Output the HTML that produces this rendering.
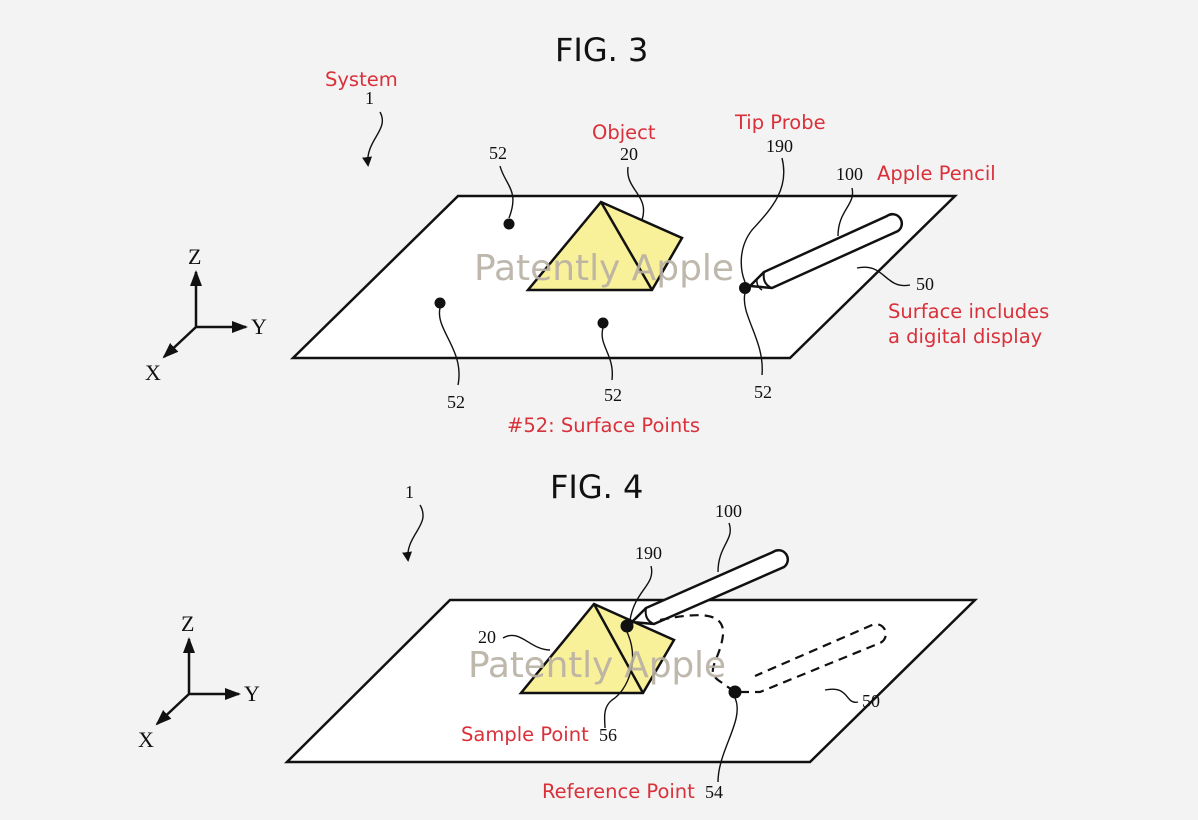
<!DOCTYPE html>
<html><head><meta charset="utf-8"><style>
html,body{margin:0;padding:0;background:#f3f3f3}
svg{display:block}
.r{fill:#d9303a;font-family:"DejaVu Sans","Liberation Sans",sans-serif;font-size:19.5px}
.n{fill:#111;font-family:"Liberation Serif",serif;font-size:18px}
.t{fill:#111;font-family:"DejaVu Sans","Liberation Sans",sans-serif;font-size:32px}
.w{fill:#b8b0a4;font-family:"DejaVu Sans","Liberation Sans",sans-serif;font-size:36px;opacity:.9}
.ax{fill:#111;font-family:"Liberation Serif",serif;font-size:22px}
</style></head><body>
<svg width="1198" height="820" viewBox="0 0 1198 820" xmlns="http://www.w3.org/2000/svg">
<defs><marker id="a" markerWidth="10" markerHeight="10" refX="8" refY="5" orient="auto" markerUnits="userSpaceOnUse" viewBox="0 0 10 10"><path d="M0,0 L10,5 L0,10 z" fill="#111"/></marker>
<marker id="b" markerWidth="16" markerHeight="16" refX="14" refY="8" orient="auto" markerUnits="userSpaceOnUse" viewBox="0 0 16 16"><path d="M0,2 L16,8 L0,14 z" fill="#111"/></marker></defs>
<g stroke="#111" fill="none" stroke-width="1.4">
<!-- FIG 3 -->
<text x="555" y="61" class="t" stroke="none">FIG. 3</text>
<text x="325" y="86" class="r" stroke="none">System</text>
<text x="365" y="104" class="n" stroke="none">1</text>
<path d="M380,112 C390,130 365,140 368,165" marker-end="url(#a)"/>
<polygon points="458,196 955,196 790,358 293,358" fill="#fff" stroke-width="2.5"/>
<polygon points="601,202 682,238 652,290 528,290" fill="#f9f09a" stroke-width="2.5"/>
<line x1="601" y1="202" x2="652" y2="290" stroke-width="2.5"/>
<path d="M750,286 L764,272 L887,216 A8,8 0 0 1 898,231 L772,288 Z" fill="#fff" stroke-width="2.5"/>
<path d="M764,272 Q762,284 772,288" stroke-width="2"/>
<path d="M757,279 Q756,286 762,290" stroke-width="1.5"/>
<g fill="#111" stroke="none"><circle cx="509" cy="224" r="5.5"/><circle cx="440" cy="303" r="5.5"/><circle cx="603" cy="323" r="5.5"/><circle cx="745" cy="288" r="6"/></g>
<text x="489" y="159" class="n" stroke="none">52</text>
<path d="M500,166 C505,185 520,190 509,218"/>
<text x="592" y="139" class="r" stroke="none">Object</text>
<text x="620" y="160" class="n" stroke="none">20</text>
<path d="M628,167 C625,190 650,195 642,220"/>
<text x="735" y="129" class="r" stroke="none">Tip Probe</text>
<text x="766" y="152" class="n" stroke="none">190</text>
<path d="M782,158 C790,190 770,210 752,230 C738,248 740,270 745,282"/>
<text x="836" y="180" class="n" stroke="none">100</text>
<text x="877" y="180" class="r" stroke="none">Apple Pencil</text>
<path d="M852,188 C856,205 838,210 838,236"/>
<text x="916" y="290" class="n" stroke="none">50</text>
<path d="M857,268 C885,262 885,290 910,285"/>
<text x="888" y="318" class="r" stroke="none">Surface includes</text>
<text x="888" y="343" class="r" stroke="none">a digital display</text>
<path d="M440,308 C435,330 465,350 458,385"/>
<text x="447" y="408" class="n" stroke="none">52</text>
<path d="M603,328 C598,345 615,355 612,380"/>
<text x="604" y="401" class="n" stroke="none">52</text>
<path d="M745,293 C740,315 765,340 762,375"/>
<text x="754" y="398" class="n" stroke="none">52</text>
<text x="507" y="432" class="r" stroke="none">#52: Surface Points</text>
<line x1="196" y1="327" x2="196" y2="272" stroke-width="2.5" marker-end="url(#b)"/>
<line x1="196" y1="327" x2="246" y2="327" stroke-width="2.5" marker-end="url(#b)"/>
<line x1="196" y1="327" x2="164" y2="357" stroke-width="2.5" marker-end="url(#b)"/>
<text x="188" y="264" class="ax" stroke="none">Z</text>
<text x="251" y="334" class="ax" stroke="none">Y</text>
<text x="145" y="380" class="ax" stroke="none">X</text>
<!-- FIG 4 -->
<text x="550" y="498" class="t" stroke="none">FIG. 4</text>
<text x="405" y="498" class="n" stroke="none">1</text>
<path d="M420,505 C432,525 405,535 408,560" marker-end="url(#a)"/>
<polygon points="450,600 975,600 810,762 287,762" fill="#fff" stroke-width="2.5"/>
<polygon points="594,604 674,640 643,693 521,693" fill="#f9f09a" stroke-width="2.5"/>
<line x1="594" y1="604" x2="643" y2="693" stroke-width="2.5"/>
<path d="M632,622 L646,608 L773,552 A8,8 0 0 1 784,567 L654,624 Z" fill="#fff" stroke-width="2.5"/>
<path d="M646,608 Q644,620 654,624" stroke-width="2"/>
<g stroke-dasharray="9,6" stroke-width="2.2">
<path d="M660,620 C700,612 725,612 723,635 C720,660 705,670 718,680 L735,692"/>
<path d="M740,692 L760,692 L880,643 A8,8 0 0 0 872,625 L755,676"/>
</g>
<g fill="#111" stroke="none"><circle cx="627" cy="626" r="6.5"/><circle cx="735" cy="692" r="6.5"/></g>
<text x="715" y="517" class="n" stroke="none">100</text>
<path d="M729,523 C735,540 718,545 718,572"/>
<text x="635" y="559" class="n" stroke="none">190</text>
<path d="M651,566 C656,585 635,590 630,620"/>
<text x="478" y="643" class="n" stroke="none">20</text>
<path d="M503,638 C520,628 530,650 550,650"/>
<text x="862" y="707" class="n" stroke="none">50</text>
<path d="M825,690 C850,685 845,705 858,702"/>
<path d="M627,632 C640,660 628,690 612,700 C602,708 605,720 605,728"/>
<text x="461" y="741" class="r" stroke="none">Sample Point</text>
<text x="599" y="741" class="n" stroke="none">56</text>
<path d="M735,698 C745,720 718,750 718,782"/>
<text x="542" y="798" class="r" stroke="none">Reference Point</text>
<text x="705" y="798" class="n" stroke="none">54</text>
<line x1="189" y1="694" x2="189" y2="639" stroke-width="2.5" marker-end="url(#b)"/>
<line x1="189" y1="694" x2="239" y2="694" stroke-width="2.5" marker-end="url(#b)"/>
<line x1="189" y1="694" x2="157" y2="724" stroke-width="2.5" marker-end="url(#b)"/>
<text x="181" y="631" class="ax" stroke="none">Z</text>
<text x="244" y="701" class="ax" stroke="none">Y</text>
<text x="138" y="747" class="ax" stroke="none">X</text>
</g>
<text x="474" y="280" class="w" textLength="260">Patently Apple</text>
<text x="468" y="677" class="w" textLength="258">Patently Apple</text>
</svg>
</body></html>
